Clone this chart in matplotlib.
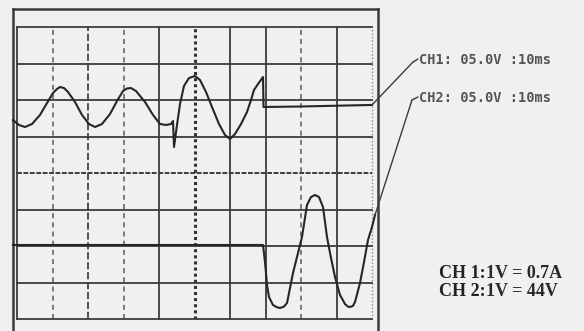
import matplotlib
matplotlib.use("Agg")
import matplotlib.pyplot as plt

# ---- data (time in ms, screen voltage in V; 10 ms/div, 5 V/div) ----
ch1_t = [-1.13, 0.56, 2.25, 4.23, 6.48, 8.45, 10.14, 11.27, 12.11, 13.24, 14.37,
         16.34, 18.31, 20.28, 21.97, 23.94, 26.20, 28.17, 29.86, 30.99, 32.11,
         33.52, 36.06, 38.31, 40.28, 41.97, 43.38, 43.94, 44.23, 45.07, 45.92,
         47.04, 48.45, 50.14, 51.55, 53.24, 54.93, 56.90, 58.59, 60.00, 61.41,
         63.10, 64.79, 65.92, 66.76, 67.89, 69.30, 69.44, 79.72, 100.0]
ch1_v = [7.26, 6.58, 6.30, 6.71, 7.95, 9.59, 10.96, 11.51, 11.78, 11.64, 11.10,
         9.73, 7.95, 6.71, 6.30, 6.71, 8.08, 9.86, 11.23, 11.58, 11.64,
         11.23, 9.73, 7.95, 6.71, 6.58, 6.71, 7.12, 3.56, 6.58, 9.45,
         11.92, 13.01, 13.29, 12.74, 11.10, 9.04, 6.71, 5.21, 4.66, 5.34,
         6.71, 8.36, 10.00, 11.37, 12.19, 13.15, 9.04, 9.11, 9.32]

ch2_t = [-1.13, 69.30, 69.86, 70.42, 70.99, 72.11, 73.24, 74.08, 75.21, 76.06,
         77.75, 79.15, 80.28, 81.69, 82.82, 83.94, 85.07, 86.20, 87.32, 88.45,
         89.58, 90.99, 92.39, 93.24, 93.80, 94.65, 95.21, 96.62, 97.75, 98.87,
         100.0, 100.85]
ch2_v = [-9.86, -9.86, -12.19, -15.34, -16.99, -18.08, -18.40, -18.49, -18.30, -17.81,
         -13.70, -10.96, -8.77, -4.38, -3.29, -3.01, -3.29, -4.66, -8.77, -11.64,
         -14.25, -16.71, -17.95, -18.30, -18.36, -18.20, -17.67, -15.07, -12.19, -9.18,
         -7.40, -5.75]

ch1_label = "CH1: 05.0V :10ms"
ch2_label = "CH2: 05.0V :10ms"
scale_lines = [("CH 1:", "1V = 0.7A"), ("CH 2:", "1V = 44V")]

time_divs = [0, 10, 20, 30, 40, 50, 60, 70, 80, 90, 100]
volt_divs = [20, 15, 10, 5, 0, -5, -10, -15, -20]

# ---- figure ----
W, H = 584, 331
bg = "#f0f0f0"
fig = plt.figure(figsize=(W / 100, H / 100), dpi=100, facecolor=bg)
ax = fig.add_axes([13 / W, 1 - 340 / H, (378 - 13) / W, (340 - 9) / H])
ax.set_facecolor(bg)
ax.set_xlim(-4 / 35.5 * 10, 361 / 35.5 * 10)
ax.set_ylim((173 - 340) / 36.5 * 5, (173 - 9) / 36.5 * 5)
ax.set_xticks([])
ax.set_yticks([])
for s in ("left", "top", "right"):
    ax.spines[s].set_color("#3c3c3c")
    ax.spines[s].set_linewidth(1.8)
ax.spines["bottom"].set_visible(False)

solid = ("-", "#3c3c3c", 1.3)
vstyles = {0: solid, 10: ((0, (3, 2.5)), "#666666", 1.2),
           20: ((0, (4, 1.5)), "#444444", 1.3), 30: ((0, (3, 2.5)), "#666666", 1.2),
           40: solid, 50: ((0, (1.0, 1.0)), "#333333", 2.2),
           60: solid, 70: solid,
           80: ((0, (3, 2.5)), "#666666", 1.2), 90: solid,
           100: ((0, (1, 1.5)), "#888888", 1.0)}
for t in time_divs:
    ls, c, lw = vstyles[t]
    ax.plot([t, t], [volt_divs[-1], volt_divs[0]], ls=ls, color=c, lw=lw, zorder=1)

for v in volt_divs:
    if v == 0:
        ls, c, lw = (0, (2.5, 0.8)), "#3c3c3c", 1.4
    else:
        ls, c, lw = solid
    ax.plot([time_divs[0], time_divs[-1]], [v, v], ls=ls, color=c, lw=lw, zorder=1)

# traces
ax.plot(ch1_t, ch1_v, color="#262626", lw=1.5, zorder=3, clip_on=False)
ax.plot(ch2_t, ch2_v, color="#262626", lw=1.5, zorder=3, clip_on=False)

# leader lines + channel labels
lead = dict(arrowstyle="-", shrinkA=0, shrinkB=0, lw=1.0, color="#3c3c3c")
for (t, v), kink, end, lab in [((ch1_t[-1], ch1_v[-1]), (413, H - 62), (418, H - 59), ch1_label),
                               ((ch2_t[-1], ch2_v[-1]), (412, H - 100), (418, H - 97), ch2_label)]:
    ax.annotate("", xy=(t, v), xycoords="data", xytext=kink,
                textcoords="figure pixels", arrowprops=lead, annotation_clip=False)
    ax.annotate("", xy=end, xycoords="figure pixels", xytext=kink,
                textcoords="figure pixels", arrowprops=lead)
    fig.text((end[0] + 1) / W, (end[1] - 1) / H, lab, family="DejaVu Sans Mono",
             fontsize=9.8, fontweight="bold", color="#555555", va="center", ha="left")

# scale legend
for i, (a, b) in enumerate(scale_lines):
    y = (H - 274 - 18 * i) / H
    t1 = fig.text(439 / W, y, a, family="Liberation Serif", fontweight="bold",
                  fontsize=13, color="#222222", va="center", ha="left")
    ax.annotate(b, xy=(1, 0.5), xycoords=t1, va="center", ha="left",
                family="Liberation Serif", fontweight="bold", fontsize=13,
                color="#2a2a2a")

fig.savefig("out.png", dpi=100, facecolor=bg)
